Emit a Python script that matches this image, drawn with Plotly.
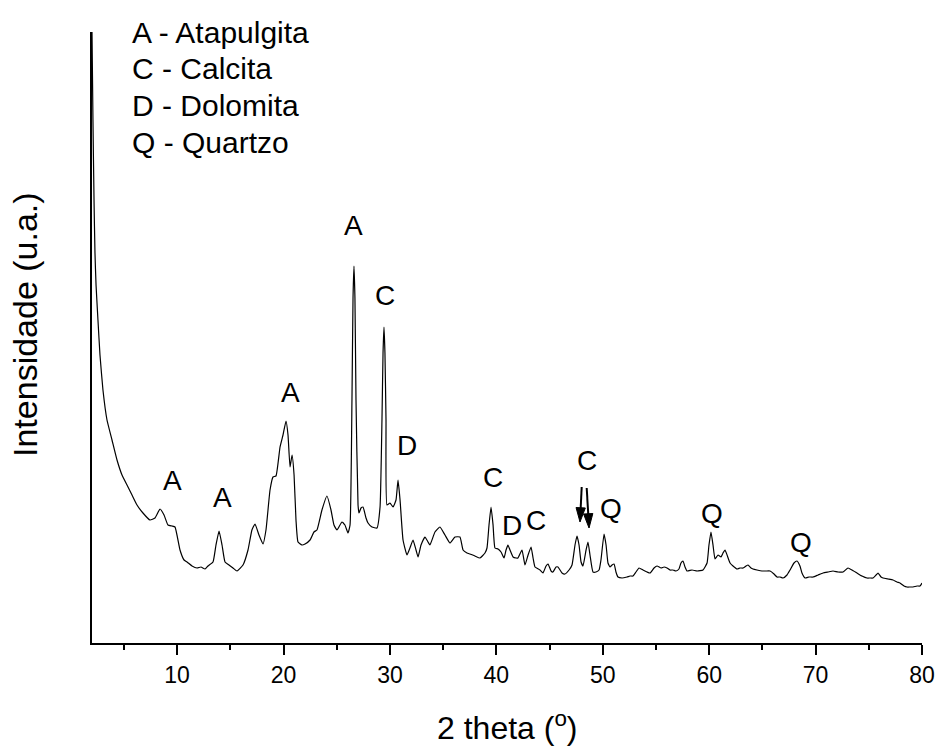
import plotly.graph_objects as go

# ---- data (2theta in degrees, intensity in arbitrary units) ----
two_theta = [
    2.00, 2.09, 2.19, 2.28, 2.38, 2.56, 2.75, 3.03, 3.41, 3.88, 4.35, 4.82, 5.29, 5.76, 6.23, 6.79,
    7.45, 7.92, 8.39, 8.77, 9.14, 9.52, 9.80, 10.27, 10.65, 10.93, 11.40, 11.87, 12.24, 12.62, 12.90,
    13.37, 13.65, 13.94, 14.22, 14.50, 14.87, 15.25, 15.63, 16.19, 16.66, 17.03, 17.32, 17.69, 18.07,
    18.35, 18.73, 19.01, 19.29, 19.67, 19.95, 20.23, 20.42, 20.61, 20.80, 20.99, 21.17, 21.36, 21.73,
    22.02, 22.49, 22.86, 23.14, 23.61, 24.08, 24.46, 24.74, 25.02, 25.49, 25.77, 26.06, 26.25, 26.43,
    26.53, 26.62, 26.71, 26.81, 27.00, 27.09, 27.28, 27.47, 27.75, 27.94, 28.31, 28.78, 29.07, 29.25,
    29.35, 29.44, 29.53, 29.63, 29.72, 30.00, 30.29, 30.57, 30.76, 30.95, 31.23, 31.60, 31.88, 32.17,
    32.45, 32.64, 32.92, 33.29, 33.58, 33.76, 34.23, 34.70, 35.17, 35.64, 36.11, 36.58, 36.87, 37.24,
    37.52, 37.99, 38.46, 38.93, 39.12, 39.31, 39.50, 39.69, 39.87, 40.16, 40.44, 40.72, 40.91, 41.09,
    41.28, 41.57, 41.85, 42.03, 42.41, 42.69, 42.98, 43.26, 43.45, 43.63, 44.10, 44.38, 44.67, 44.86,
    45.14, 45.32, 45.61, 45.79, 46.17, 46.45, 46.83, 47.11, 47.39, 47.58, 47.77, 47.96, 48.14, 48.43,
    48.61, 48.80, 49.08, 49.36, 49.65, 49.83, 50.12, 50.31, 50.49, 50.68, 50.87, 51.06, 51.24, 51.43,
    51.81, 52.28, 52.56, 52.84, 53.12, 53.41, 53.78, 54.16, 54.44, 54.82, 55.10, 55.48, 55.76, 56.04,
    56.32, 56.60, 56.88, 57.16, 57.35, 57.54, 57.73, 57.92, 58.39, 58.86, 59.42, 59.80, 59.98, 60.17,
    60.36, 60.55, 60.83, 61.11, 61.30, 61.49, 61.68, 61.96, 62.24, 62.62, 62.90, 63.18, 63.46, 63.65,
    63.93, 64.12, 64.49, 64.96, 65.34, 65.72, 66.09, 66.37, 66.66, 66.94, 67.31, 67.60, 67.97, 68.25,
    68.53, 68.72, 69.01, 69.38, 69.76, 70.23, 70.70, 71.17, 71.64, 72.11, 72.58, 73.05, 73.42, 73.89,
    74.36, 74.83, 75.11, 75.40, 75.68, 75.87, 76.15, 76.34, 76.81, 77.28, 77.65, 77.93, 78.31, 78.59,
    78.88, 79.16, 79.53, 79.81, 80.00,
]
intensity = [
    611, 523, 443, 390, 358, 323, 288, 253, 223, 203, 183, 168, 158, 148, 138, 130,
    123, 125, 134, 128, 118, 117, 116, 93, 83, 81, 77, 75, 76, 74, 77,
    81, 98, 112, 98, 81, 78, 75, 72, 78, 93, 113, 119, 108, 99,
    113, 153, 166, 167, 196, 208, 222, 208, 176, 188, 168, 123, 101, 98,
    99, 103, 111, 113, 133, 147, 133, 118, 113, 121, 118, 110, 118, 243,
    345, 377, 345, 243, 138, 130, 135, 136, 125, 120, 116, 115, 136, 223,
    290, 316, 290, 223, 138, 140, 136, 143, 163, 143, 103, 88, 95, 103,
    93, 86, 98, 106, 101, 98, 111, 116, 108, 100, 106, 106, 93, 90,
    89, 87, 85, 90, 95, 118, 136, 118, 95, 94, 91, 85, 93, 98,
    93, 86, 85, 85, 93, 78, 88, 96, 85, 76, 73, 70, 77, 79,
    72, 71, 76, 76, 70, 69, 73, 78, 98, 107, 98, 81, 77, 93,
    101, 88, 71, 71, 73, 83, 109, 98, 80, 76, 78, 79, 71, 66,
    65, 66, 67, 67, 71, 75, 73, 71, 70, 75, 77, 75, 76, 75,
    73, 73, 72, 74, 80, 82, 76, 72, 73, 72, 73, 80, 98, 111,
    98, 84, 88, 86, 90, 93, 88, 80, 77, 74, 75, 75, 77, 78,
    75, 74, 73, 72, 72, 72, 69, 66, 66, 65, 68, 73, 80, 82,
    77, 70, 65, 66, 66, 68, 70, 71, 72, 71, 71, 75, 73, 70,
    67, 65, 65, 65, 68, 70, 66, 65, 64, 63, 61, 60, 57, 56,
    56, 56, 57, 57, 60,
]

# peak labels
peak_labels = ["A", "A", "A", "A", "C", "D", "C", "D", "C", "C", "Q", "Q", "Q"]
peak_label_x = [9.61, 14.22, 20.61, 26.53, 29.54, 31.60, 39.69, 41.47, 43.73, 48.52, 50.77, 60.27, 68.63]
peak_label_y = [163, 146, 251, 418, 348, 198, 166, 118, 123, 183, 135, 130, 101]

# phase key
key_lines = ["A - Atapulgita", "C - Calcita", "D - Dolomita", "Q - Quartzo"]
key_x = 5.55
key_y = [611, 575, 538, 501]

# arrows (tail -> head) for the calcite doublet
arrow_tail_x = [48.02, 48.49]
arrow_tail_y = [156, 155]
arrow_head_x = [47.86, 48.71]
arrow_head_y = [121, 115]

x_ticks = [10, 20, 30, 40, 50, 60, 70, 80]
x_minor_ticks = [5, 15, 25, 35, 45, 55, 65, 75]

x_title = "2 theta (<sup>o</sup>)"
y_title = "Intensidade (u.a.)"

FONT = "Liberation Sans, Arial, sans-serif"

fig = go.Figure()
fig.add_trace(go.Scatter(
    x=two_theta, y=intensity, mode="lines",
    line=dict(color="black", width=1.2, shape="spline", smoothing=0.4),
    showlegend=False, hoverinfo="skip",
))

for tx, ty, hx, hy in zip(arrow_tail_x, arrow_tail_y, arrow_head_x, arrow_head_y):
    fig.add_trace(go.Scatter(
        x=[tx, hx], y=[ty, hy], mode="lines+markers",
        line=dict(color="black", width=2),
        marker=dict(symbol="arrow", size=[0, 15], angleref="previous", color="black",
                    opacity=1, line=dict(width=1, color="black")),
        showlegend=False, hoverinfo="skip", cliponaxis=False,
    ))

annotations = []
for t, x, y in zip(peak_labels, peak_label_x, peak_label_y):
    annotations.append(dict(x=x, y=y, xref="x", yref="y", text=t, showarrow=False,
                            font=dict(family=FONT, size=28, color="black"),
                            xanchor="center", yanchor="middle"))
for t, y in zip(key_lines, key_y):
    annotations.append(dict(x=key_x, y=y, xref="x", yref="y", text=t, showarrow=False,
                            font=dict(family=FONT, size=30, color="black"),
                            xanchor="left", yanchor="middle"))
annotations.append(dict(x=-0.0807, y=0.5205, xref="paper", yref="paper", text=y_title,
                        textangle=-90, showarrow=False, xanchor="center", yanchor="middle",
                        font=dict(family=FONT, size=34, color="black")))
annotations.append(dict(x=0.5, y=-0.1358, xref="paper", yref="paper", text=x_title,
                        showarrow=False, xanchor="center", yanchor="middle",
                        font=dict(family=FONT, size=32, color="black")))

fig.update_layout(
    width=938, height=747, autosize=False,
    margin=dict(l=92, r=16, t=32, b=104, autoexpand=False),
    plot_bgcolor="white", paper_bgcolor="white",
    font=dict(family=FONT, color="black"),
    annotations=annotations,
    xaxis=dict(
        range=[2, 80], tickvals=x_ticks, ticks="outside", ticklen=10, tickwidth=1.5,
        tickcolor="black", showline=True, linecolor="black", linewidth=2,
        showgrid=False, zeroline=False, automargin=False,
        tickfont=dict(family=FONT, size=23, color="black"),
        minor=dict(tickvals=x_minor_ticks, ticks="outside",
                   ticklen=5, tickwidth=1.5, tickcolor="black", showgrid=False),
    ),
    yaxis=dict(
        range=[0, 611], showticklabels=False, ticks="", showline=True,
        linecolor="black", linewidth=2, showgrid=False, zeroline=False, automargin=False,
    ),
)

fig.write_html("out.html", config={"displayModeBar": False},
               post_script="document.body.style.margin='0';")
